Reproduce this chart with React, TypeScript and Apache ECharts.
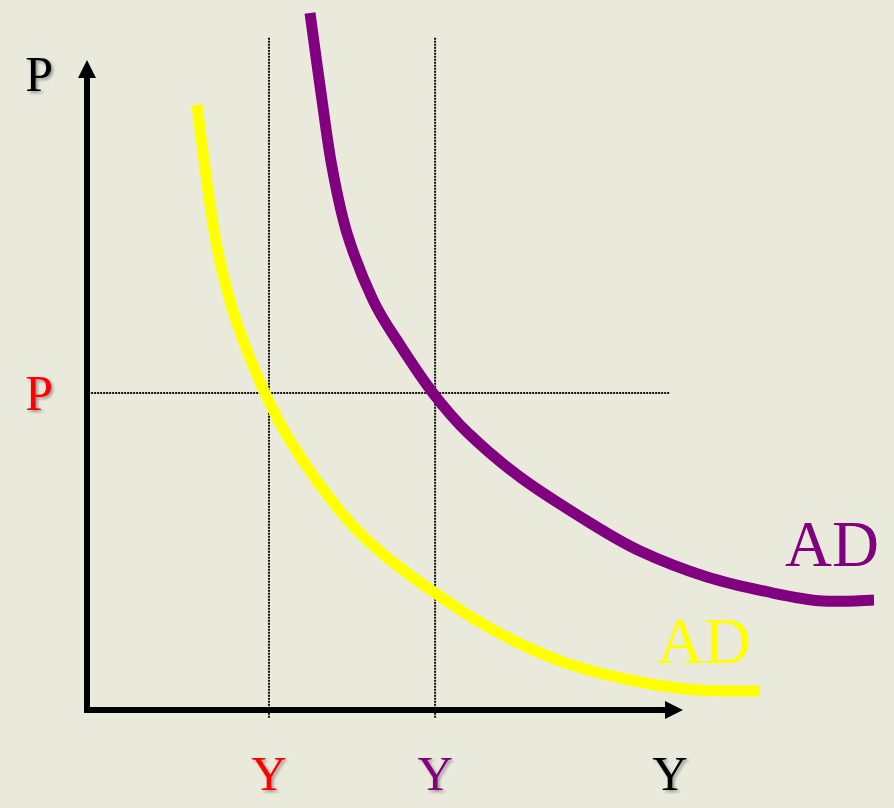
import { useEffect, useRef } from 'react';
import * as echarts from 'echarts';

// Aggregate demand curves: output (Y) against price level (P)
const adLowOutput = [1.874, 2.061, 2.249, 2.555, 3.032, 3.526, 4.31, 4.94, 5.928, 6.985, 8.109, 9.25, 10.392, 11.465];
const adLowPrice = [9.438, 8.112, 7.067, 6.037, 4.945, 4.103, 3.105, 2.512, 1.825, 1.217, 0.749, 0.468, 0.312, 0.296];

const adHighOutput = [3.799, 4.003, 4.174, 4.429, 4.872, 5.332, 5.894, 6.491, 7.376, 8.518, 9.421, 10.562, 11.687, 12.538, 13.407];
const adHighPrice = [10.874, 9.516, 8.471, 7.441, 6.396, 5.694, 4.945, 4.321, 3.635, 2.949, 2.48, 2.075, 1.825, 1.7, 1.716];

// Reference levels
const priceLevel = 4.945;
const outputLow = 3.1;
const outputHigh = 5.93;
const guideTop = 10.5;
const guideBottom = -0.12;
const guideRight = 9.93;

// Axis labels
const xLabelValues = [outputLow, outputHigh, 9.93];
const xLabelTexts = ['Y', 'Y', 'Y'];
const yLabelValues = [priceLevel, 9.92];
const yLabelTexts = ['P', 'P'];
const curveLabel = 'AD';

// Axis extents: the drawn axes span 0..10, the curves run out to 14
const axisMax = 10;
const curveAxisMax = 14;

const RED = '#ff0000';
const PURPLE = '#800080';
const YELLOW = '#ffff00';
const BLACK = '#000000';
const SERIF = '"Liberation Serif", "Times New Roman", Times, serif';

const xLabelColors = [RED, PURPLE, BLACK];
const yLabelColors = [RED, BLACK];

const zip = (xs: number[], ys: number[]) => xs.map((x, i) => [x, ys[i]]);

const labelShadow = {
  textShadowColor: 'rgba(0,0,0,0.35)',
  textShadowBlur: 3,
  textShadowOffsetX: 2,
  textShadowOffsetY: 2,
};

const nearestIndex = (values: number[], v: number) => {
  let best = 0;
  values.forEach((c, i) => {
    if (Math.abs(c - v) < Math.abs(values[best] - v)) best = i;
  });
  return best;
};

// Catmull-Rom spline through pixel points, written as cubic Bezier segments
const splinePath = (pts: number[][]) => {
  const f = (n: number) => n.toFixed(2);
  let d = `M${f(pts[0][0])},${f(pts[0][1])}`;
  for (let i = 0; i < pts.length - 1; i++) {
    const p0 = pts[Math.max(i - 1, 0)];
    const p1 = pts[i];
    const p2 = pts[i + 1];
    const p3 = pts[Math.min(i + 2, pts.length - 1)];
    const c1x = p1[0] + (p2[0] - p0[0]) / 6;
    const c1y = p1[1] + (p2[1] - p0[1]) / 6;
    const c2x = p2[0] - (p3[0] - p1[0]) / 6;
    const c2y = p2[1] - (p3[1] - p1[1]) / 6;
    d += ` C${f(c1x)},${f(c1y)} ${f(c2x)},${f(c2y)} ${f(p2[0])},${f(p2[1])}`;
  }
  return d;
};

const PLOT_LEFT = 87;
const PLOT_TOP = 69;
const PLOT_W = 587;
const PLOT_H = 641;

export default function App() {
  const ref = useRef<HTMLDivElement>(null);

  useEffect(() => {
    if (!ref.current) return;
    const chart = echarts.init(ref.current, null, { renderer: 'svg' });

    const guide = (data: number[][]) => ({
      type: 'line',
      xAxisIndex: 0,
      yAxisIndex: 0,
      data,
      symbol: 'none',
      silent: true,
      clip: false,
      z: 1,
      lineStyle: { color: '#111111', width: 2, type: [2, 1] },
    });

    const curve = (data: number[][], color: string, offset: number[]) => ({
      type: 'custom',
      coordinateSystem: 'cartesian2d',
      xAxisIndex: 1,
      yAxisIndex: 1,
      data,
      encode: { x: 0, y: 1 },
      clip: false,
      silent: true,
      z: 3,
      renderItem: (params: any, api: any) => {
        if (params.dataIndex !== 0) return null;
        const pts = data.map((p) => api.coord(p));
        const end = pts[pts.length - 1];
        return {
          type: 'group',
          children: [
            {
              type: 'path',
              shape: { pathData: splinePath(pts) },
              style: { stroke: color, lineWidth: 11, fill: 'none', lineCap: 'butt', lineJoin: 'round' },
            },
            {
              type: 'text',
              x: end[0] + offset[0],
              y: end[1] + offset[1],
              style: {
                text: curveLabel,
                fill: color,
                fontFamily: SERIF,
                fontSize: 65,
                align: 'center',
                verticalAlign: 'middle',
                textAlign: 'center',
                textVerticalAlign: 'middle',
              },
            },
          ],
        };
      },
    });

    const hiddenAxis = (max: number) => ({
      type: 'value',
      min: 0,
      max,
      show: false,
    });

    chart.setOption({
      animation: false,
      backgroundColor: '#e9e9dc',
      grid: [
        {
          left: PLOT_LEFT,
          top: PLOT_TOP,
          width: PLOT_W,
          height: PLOT_H,
          containLabel: false,
          outerBoundsMode: 'none',
        },
        {
          left: PLOT_LEFT,
          top: PLOT_TOP,
          width: (PLOT_W * curveAxisMax) / axisMax,
          height: PLOT_H,
          containLabel: false,
          outerBoundsMode: 'none',
        },
      ],
      xAxis: [
        {
          type: 'value',
          gridIndex: 0,
          min: 0,
          max: axisMax,
          splitLine: { show: false },
          axisTick: { show: false },
          axisLine: {
            show: true,
            symbol: ['none', 'triangle'],
            symbolSize: [18, 18],
            lineStyle: { color: BLACK, width: 6, cap: 'square' },
          },
          axisLabel: {
            show: true,
            customValues: xLabelValues,
            formatter: (v: number) => xLabelTexts[nearestIndex(xLabelValues, v)],
            color: (v: number) => xLabelColors[nearestIndex(xLabelValues, v)],
            fontFamily: SERIF,
            fontSize: 49,
            margin: 63,
            verticalAlign: 'middle',
            ...labelShadow,
          },
        },
        { ...hiddenAxis(curveAxisMax), gridIndex: 1 },
      ],
      yAxis: [
        {
          type: 'value',
          gridIndex: 0,
          min: 0,
          max: axisMax,
          splitLine: { show: false },
          axisTick: { show: false },
          axisLine: {
            show: true,
            symbol: ['none', 'triangle'],
            symbolSize: [18, 18],
            lineStyle: { color: BLACK, width: 6 },
          },
          axisLabel: {
            show: true,
            customValues: yLabelValues,
            formatter: (v: number) => yLabelTexts[nearestIndex(yLabelValues, v)],
            color: (v: number) => yLabelColors[nearestIndex(yLabelValues, v)],
            fontFamily: SERIF,
            fontSize: 50,
            margin: 34,
            align: 'right',
            verticalAlign: 'middle',
            ...labelShadow,
          },
        },
        { ...hiddenAxis(axisMax), gridIndex: 1 },
      ],
      series: [
        guide([[outputLow, guideBottom], [outputLow, guideTop]]),
        guide([[outputHigh, guideBottom], [outputHigh, guideTop]]),
        guide([[0.02, priceLevel], [guideRight, priceLevel]]),
        curve(zip(adLowOutput, adLowPrice), YELLOW, [-56, -50]),
        curve(zip(adHighOutput, adHighPrice), PURPLE, [-42, -56]),
      ],
    });

    return () => chart.dispose();
  }, []);

  return (
    <div
      ref={ref}
      style={{ position: 'fixed', left: 0, top: 0, width: 894, height: 808 }}
    />
  );
}
